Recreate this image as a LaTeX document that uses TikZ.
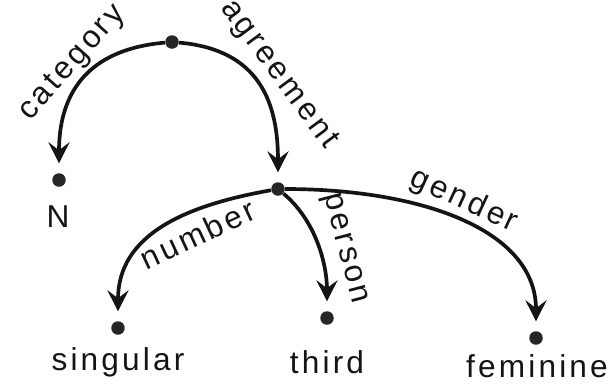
\documentclass[tikz,border=0pt]{standalone}
\usepackage{fontspec}
\setmainfont{Liberation Sans}[LetterSpace=10]
\usetikzlibrary{arrows.meta,positioning}
\definecolor{ink}{HTML}{141414}
\definecolor{dotfill}{HTML}{262626}

\begin{document}
\begin{tikzpicture}[x=0.02cm,y=0.02cm,font=\fontsize{18}{20}\selectfont,>={Stealth[length=12pt,width=12pt,inset=4.5pt]},
  dot/.style={circle,fill=dotfill,inner sep=0pt,minimum size=0.27cm},
  feat/.style={->,line width=2.1pt,draw=ink,shorten >=0.19cm},
  word/.style={text=ink,inner sep=2pt}]
\useasboundingbox (0,0) rectangle (609,-383);
% feature structure nodes
\node[dot] (root) at (172,-42) {};
\node[dot] (n) at (59,-180) {};
\node[dot] (agr) at (278,-189) {};
\node[dot] (sg) at (118,-328) {};
\node[dot] (third) at (327,-318) {};
\node[dot] (fem) at (536,-338) {};
% values
\node[word] (nlab) at (58,-217) {N};
\node[word] (sglab) at (118,-362) {singular};
\node[word] (thirdlab) at (327,-362) {third};
\node[word] (femlab) at (537,-366) {feminine};
% features
\draw[feat] (root) to[out=185,in=90,looseness=1.2] node[word,sloped,above,pos=0.46] (lcat) {category} (n);
\draw[feat] (root) to[out=-5,in=90,looseness=1.2] node[word,sloped,rotate=7,above=2pt,pos=0.52] (lagr) {agreement} (agr);
\draw[feat] (agr) to[out=190,in=90,looseness=1.1] node[word,sloped,below=3pt,pos=0.36] (lnum) {number} (sg);
\draw[feat] (agr) to[out=-40,in=90,looseness=0.9] node[word,sloped,above=4pt,pos=0.57] (lpers) {person} (third);
\draw[feat] (agr) to[out=0,in=90,out looseness=1.2,in looseness=0.9] node[word,sloped,above,pos=0.48] (lgen) {gender} (fem);
\end{tikzpicture}
\end{document}
